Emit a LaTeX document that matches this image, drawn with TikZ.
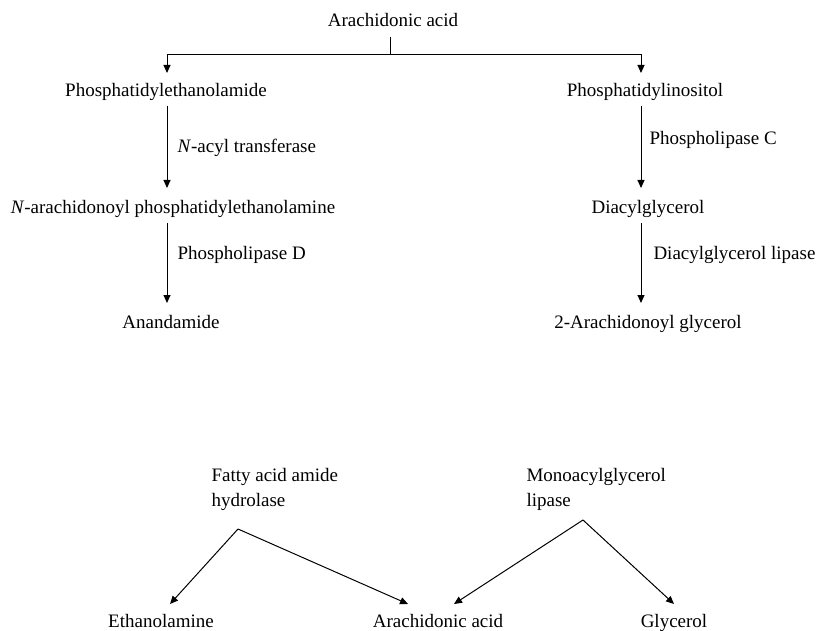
\documentclass[tikz,border=0pt]{standalone}
\usepackage{fontspec}
\setmainfont{Liberation Serif}
\usetikzlibrary{arrows.meta}

\begin{document}
\begin{tikzpicture}[x=1pt, y=-1pt, line width=1pt,
    >={Triangle[length=8pt,width=7pt]},
    every node/.style={font=\fontsize{19}{25}\selectfont, inner sep=0pt},
    chem/.style={text height=13pt, text depth=4pt},
    enzyme/.style={anchor=west, align=left},
    flow/.style={->, shorten <=5pt, shorten >=12pt}]
    \useasboundingbox (0,0) rectangle (816,631);

    % synthesis
    \node (aa) [chem] at (393,22) {Arachidonic acid};
    \coordinate (split) at (390,55);
    \coordinate (colL) at (167,0);
    \coordinate (colR) at (641,0);

    \node (pe) [chem] at (166,92) {Phosphatidylethanolamide};
    \node (nape) [chem] at (173,209) {\textit{N}-arachidonoyl phosphatidylethanolamine};
    \node (anand) [chem] at (171,324) {Anandamide};

    \node (pi) [chem] at (645,92) {Phosphatidylinositol};
    \node (dag) [chem] at (648,209) {Diacylglycerol};
    \node (ag) [chem] at (648,324) {2-Arachidonoyl glycerol};

    \node (nat) [enzyme] at (177,148) {\textit{N}-acyl transferase};
    \node (pld) [enzyme] at (177,255) {Phospholipase D};
    \node (plc) [enzyme] at (649,140) {Phospholipase C};
    \node (dagl) [enzyme] at (653,255) {Diacylglycerol lipase};

    \draw [shorten <=6pt] (aa.south -| split) -- (split);
    \draw [->, shorten >=10pt] (split) -| (pe.north -| colL);
    \draw [->, shorten >=10pt] (split) -| (pi.north -| colR);

    \draw [flow] (pe.south -| colL) -- (nape.north -| colL);
    \draw [flow] (nape.south -| colL) -- (anand.north -| colL);
    \draw [flow] (pi.south -| colR) -- (dag.north -| colR);
    \draw [flow] (dag.south -| colR) -- (ag.north -| colR);

    % degradation
    \node (faah) [enzyme] at (211,489.5) {Fatty acid amide\\hydrolase};
    \node (magl) [enzyme] at (526,489.5) {Monoacylglycerol\\lipase};
    \coordinate (faahfork) at (238,529);
    \coordinate (maglfork) at (583,520);

    \node (etha) [chem] at (161,623) {Ethanolamine};
    \node (aa2) [chem] at (438,623) {Arachidonic acid};
    \node (glyc) [chem] at (674,623) {Glycerol};

    \draw [->] (faahfork) -- ([xshift=9pt,yshift=10pt]etha.north);
    \draw [->] (faahfork) -- ([xshift=-30pt,yshift=10pt]aa2.north);
    \draw [->] (maglfork) -- ([xshift=16pt,yshift=10pt]aa2.north);
    \draw [->] (maglfork) -- ([yshift=10pt]glyc.north);
\end{tikzpicture}
\end{document}
